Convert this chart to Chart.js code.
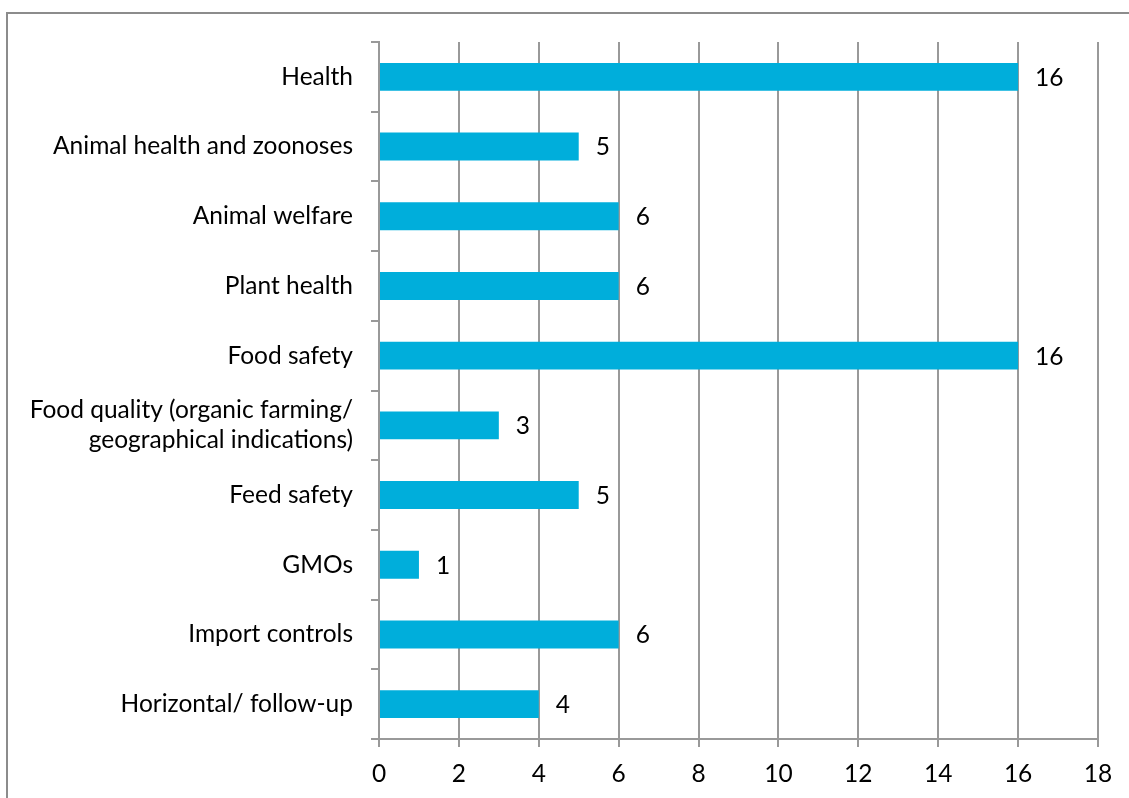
<!DOCTYPE html>
<html>
<head>
<meta charset="utf-8">
<script src="https://cdn.jsdelivr.net/npm/chart.js@4/dist/chart.umd.min.js"></script>
<style>
  html, body { margin: 0; padding: 0; background: #fff; overflow: hidden; }
  #wrap { position: relative; width: 1129px; height: 798px; }
  #frame { position: absolute; left: 6px; top: 12px; width: 1200px; height: 900px; border: 2px solid #8c8c8c; box-sizing: border-box; }
  canvas { position: absolute; left: 0; top: 0; }
</style>
</head>
<body>
<div id="wrap">
  <div id="frame"></div>
  <canvas id="c" width="1129" height="798"></canvas>
</div>
<script>
const categories = [
  "Health",
  "Animal health and zoonoses",
  "Animal welfare",
  "Plant health",
  "Food safety",
  ["Food quality (organic farming/", "geographical indications)"],
  "Feed safety",
  "GMOs",
  "Import controls",
  "Horizontal/ follow-up"
];
const values = [16, 5, 6, 6, 16, 3, 5, 1, 6, 4];
const xTicks = [0, 2, 4, 6, 8, 10, 12, 14, 16, 18];

const FONT = "Lato, 'Open Sans', sans-serif";
const FSIZE = 24.5;

const valueLabels = {
  id: 'valueLabels',
  afterDatasetsDraw(chart) {
    const ctx = chart.ctx;
    const meta = chart.getDatasetMeta(0);
    ctx.save();
    ctx.font = FSIZE + "px " + FONT;
    ctx.fillStyle = "#000";
    ctx.textAlign = "left";
    ctx.textBaseline = "middle";
    meta.data.forEach((bar, i) => {
      ctx.fillText(String(values[i]), bar.x + 17, bar.y + 1);
    });
    ctx.restore();
  }
};

new Chart(document.getElementById('c'), {
  type: 'bar',
  data: {
    labels: categories,
    datasets: [{
      data: values,
      backgroundColor: '#00AEDB',
      borderWidth: 0,
      barPercentage: 0.4,
      categoryPercentage: 1.0
    }]
  },
  options: {
    indexAxis: 'y',
    responsive: false,
    animation: false,
    layout: { padding: { top: 42, right: 31, left: 0, bottom: 0 } },
    plugins: { legend: { display: false }, tooltip: { enabled: false } },
    scales: {
      x: {
        min: 0, max: 18,
        afterBuildTicks(scale) { scale.ticks = xTicks.map(v => ({ value: v })); },
        ticks: { color: '#000', font: { family: FONT, size: FSIZE }, padding: 12 },
        grid: { color: '#999', lineWidth: 2, tickLength: 8 },
        border: { color: '#999', width: 2 },
        afterFit(scale) { scale.height = 59; }
      },
      y: {
        ticks: { color: '#000', font: { family: FONT, size: FSIZE, lineHeight: 1.24 }, padding: 18 },
        grid: { offset: true, drawOnChartArea: false, color: '#999', lineWidth: 2, tickLength: 8 },
        border: { color: '#999', width: 2 },
        afterFit(scale) { scale.width = 379; }
      }
    }
  },
  plugins: [valueLabels]
});
</script>
</body>
</html>
